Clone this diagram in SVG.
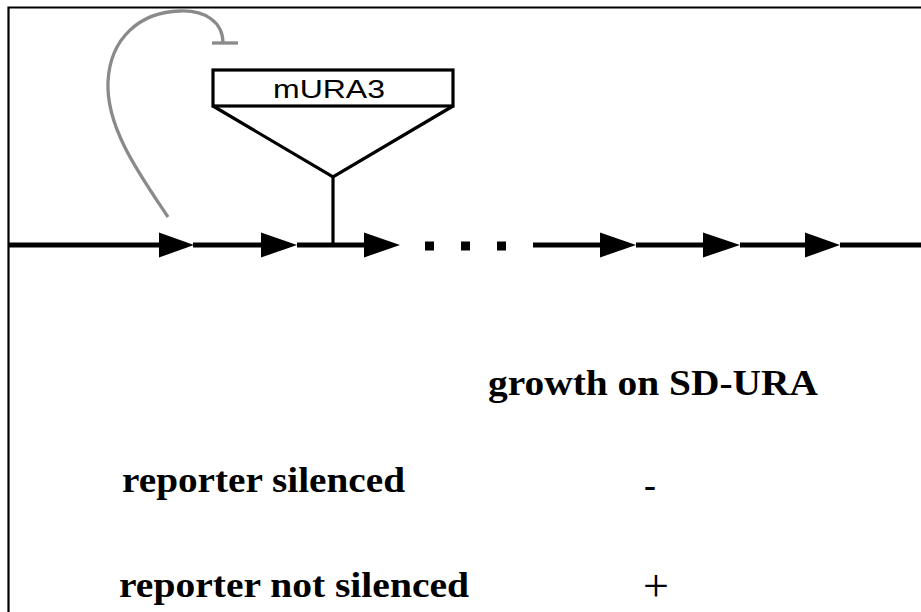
<svg xmlns="http://www.w3.org/2000/svg" width="921" height="612" viewBox="0 0 921 612">
<style>
.frame{stroke:#000;stroke-width:2.2;fill:none}
.dna{stroke:#000;stroke-width:5;fill:none}
.head{fill:#000}
.ins{stroke:#000;stroke-width:3.2;fill:none}
.rep{stroke:#8a8a8a;stroke-width:3.3;fill:none}
.lbl{font-family:"Liberation Sans",Arial,sans-serif;font-size:26px;fill:#000}
.tbl{font-family:"Liberation Serif","Times New Roman",serif;font-weight:bold;font-size:36px;fill:#000}
.sym{font-family:"Liberation Serif","Times New Roman",serif;font-size:46px;fill:#000}
</style>
<rect width="921" height="612" fill="#fff"/>
<g id="frame">
<path class="frame" d="M8.5,612 V7.5 H921"/>
</g>
<g id="connectors">
<path class="dna" d="M8,245 H162 M193,245 H262 M297,245 H365 M533,245 H602 M636,245 H705 M740,245 H807 M840,245 H921"/>
<path class="rep" d="M168,217 C140,175 106,128 108,82 C110,38 140,12 180,11 C205,10 223,22 223,43"/>
<path class="rep" d="M212,43 H238"/>
<path class="ins" d="M333,177 V245"/>
</g>
<g id="arrows">
<polygon class="head" points="159,232.5 194,245 159,257.5"/>
<polygon class="head" points="261,232.5 297,245 261,257.5"/>
<polygon class="head" points="364,232.5 400,245 364,257.5"/>
<polygon class="head" points="600,232.5 636,245 600,257.5"/>
<polygon class="head" points="703,232.5 740,245 703,257.5"/>
<polygon class="head" points="805,232.5 840,245 805,257.5"/>
</g>
<g id="gap">
<rect x="425" y="241.5" width="9" height="9"/>
<rect x="461" y="241.5" width="9" height="9"/>
<rect x="497" y="241.5" width="9" height="9"/>
</g>
<g id="mURA3">
<rect class="ins" x="213" y="70" width="240" height="36"/>
<path class="ins" d="M213,106 L333,177 L453,106"/>
<text class="lbl" x="273" y="98" textLength="112" lengthAdjust="spacingAndGlyphs">mURA3</text>
</g>
<g id="table">
<text class="tbl" x="488" y="395" textLength="330" lengthAdjust="spacingAndGlyphs">growth on SD-URA</text>
<text class="tbl" x="122" y="492" textLength="283" lengthAdjust="spacingAndGlyphs">reporter silenced</text>
<text class="tbl" x="644" y="497" textLength="12" lengthAdjust="spacingAndGlyphs">-</text>
<text class="sym" x="643" y="601">+</text>
<text class="tbl" x="119" y="597" textLength="350" lengthAdjust="spacingAndGlyphs">reporter not silenced</text>
</g>
</svg>
